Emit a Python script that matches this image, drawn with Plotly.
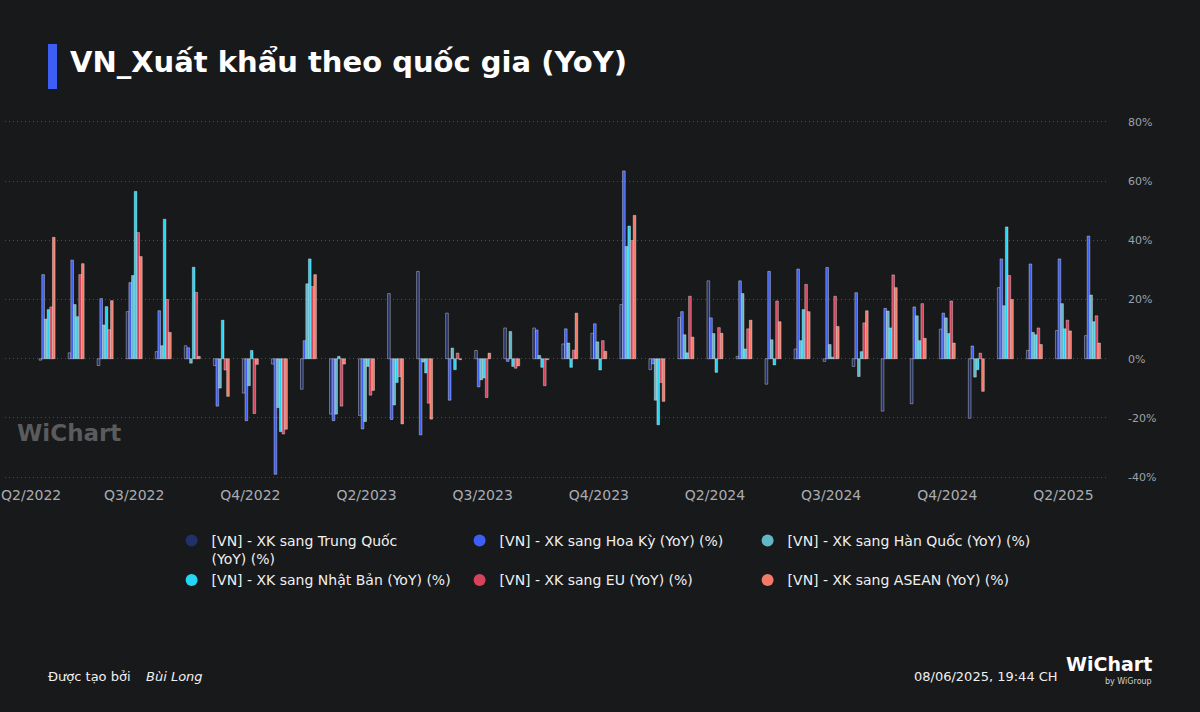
import pandas as pd
import plotly.graph_objects as go

months = pd.period_range("2022-05", "2025-05", freq="M")

china = [-0.5, 2.0, -2.3, 15.9, 2.4, 4.4, -2.3, -11.6, -1.8, -10.3, -18.7, -19.2, 22.0, 29.5, 15.4, 2.8, 10.4, 10.4, 5.0, 8.6, 18.3, -3.7, 13.9, 26.3, 0.8, -8.6, 3.3, -0.9, -2.6, -17.7, -15.2, 10.0, -20.1, 24.0, 2.8, 9.5, 7.8]
us = [28.4, 33.3, 20.3, 25.7, 16.2, 3.7, -16.0, -20.9, -39.0, 6.1, -20.9, -23.7, -20.5, -25.7, -14.0, -9.5, -0.9, 9.7, 10.1, 11.8, 63.4, -1.7, 15.9, 13.8, 26.3, 29.5, 30.3, 30.8, 22.3, 17.0, 17.5, 15.4, 4.3, 33.7, 32.0, 33.7, 41.4]
korea = [13.4, 18.3, 11.4, 28.1, 4.4, -1.5, -9.9, -9.1, -16.5, 25.3, -18.7, -21.2, -15.6, -1.1, 3.6, -7.1, 9.2, 1.1, 5.3, 5.7, 37.9, -14.0, 8.1, 8.5, 22.0, 6.4, 6.1, 4.8, -6.0, 16.1, 14.5, 13.8, -6.2, 17.9, 8.9, 18.6, 21.5]
japan = [16.6, 14.2, 17.6, 56.5, 47.1, 30.9, 13.0, 2.8, -24.6, 33.7, 0.8, -2.6, -8.0, -4.8, -3.7, -6.5, -2.6, -2.9, -2.9, -3.8, 44.8, -22.3, 2.0, -4.6, 3.3, -2.1, 16.6, 0.5, 2.4, 10.4, 6.1, 8.5, -3.7, 44.5, 8.1, 10.1, 12.5]
eu = [17.5, 28.4, 9.8, 42.6, 20.0, 22.4, -3.8, -18.5, -25.4, 24.4, -16.0, -12.3, -6.0, -15.0, 1.9, -13.1, -3.2, -9.1, 2.9, 6.1, 39.9, -8.0, 21.1, 10.5, 10.1, 19.5, 25.1, 21.1, 12.1, 28.3, 18.6, 19.5, 1.9, 28.1, 10.4, 13.0, 14.5]
asean = [41.0, 32.1, 19.6, 34.5, 8.9, 0.8, -12.7, -1.9, -23.8, 28.4, -1.8, -10.7, -22.0, -20.4, -0.3, 1.9, -2.4, -0.3, 15.4, 2.5, 48.4, -14.4, 7.3, 8.6, 13.0, 12.5, 15.9, 10.9, 16.2, 24.0, 6.9, 5.3, -11.0, 20.0, 4.8, 9.4, 5.3]

series_names = [
    "[VN] - XK sang Trung Quốc<br>(YoY) (%)",
    "[VN] - XK sang Hoa Kỳ (YoY) (%)",
    "[VN] - XK sang Hàn Quốc (YoY) (%)",
    "[VN] - XK sang Nhật Bản (YoY) (%)",
    "[VN] - XK sang EU (YoY) (%)",
    "[VN] - XK sang ASEAN (YoY) (%)",
]
series_values = [china, us, korea, japan, eu, asean]
colors = ["#22306a", "#3d5ef5", "#62b6c8", "#25d5f5", "#d7435c", "#f47a68"]

y_ticks = [-40, -20, 0, 20, 40, 60, 80]

x = list(range(len(months)))

# tick every 4 months, labelled by quarter
tick_idx = list(range(-1, len(months), 4))
tick_periods = [months[0] + i for i in tick_idx]
tick_text = [f"Q{p.quarter}/{p.year}" for p in tick_periods]
tick_pos = [max(i, -0.55) for i in tick_idx]

W, H = 1200, 712
L, R, T, B = 5, 93, 120, 233
PW, PH = W - L - R, H - T - B

BG = "#18191b"
fig = go.Figure()
for name, vals, col in zip(series_names, series_values, colors):
    fig.add_trace(go.Bar(
        x=x, y=vals, name=name,
        marker=dict(color=col, line=dict(color="rgba(255,255,255,0.45)", width=0.8)),
        showlegend=False,
    ))
for name, col in zip(series_names, colors):
    fig.add_trace(go.Scatter(
        x=[None], y=[None], mode="markers", name=name,
        marker=dict(color=col, size=15, symbol="circle"),
    ))

fig.update_layout(
    width=W, height=H,
    paper_bgcolor=BG, plot_bgcolor=BG,
    margin=dict(l=L, r=R, t=T, b=B, autoexpand=False),
    barmode="group", bargap=0.45, bargroupgap=0,
    font=dict(family="DejaVu Sans", color="#e8e8e8"),
    xaxis=dict(
        range=[-1.45, len(months) - 0.5], tickmode="array", tickvals=tick_pos, ticktext=tick_text,
        showgrid=False, zeroline=False, showline=False, ticks="", automargin=False,
        ticklabelstandoff=6,
        tickfont=dict(size=14, color="#a9adb3"),
    ),
    yaxis=dict(
        side="right", range=[-40.6, 80.6], tickmode="array", tickvals=y_ticks,
        ticktext=[f"{v}%" for v in y_ticks], automargin=False,
        showgrid=True, gridcolor="#4a4c52", griddash="1px,3px", gridwidth=1,
        zeroline=False, ticks="", ticklabelstandoff=20,
        tickfont=dict(size=11, color="#9ea2a8"),
    ),
    legend=dict(
        orientation="h", xref="container", yref="container", x=0.143, y=1 - 525 / 712,
        xanchor="left", yanchor="top", entrywidth=243, entrywidthmode="pixels",
        font=dict(size=14, color="#f0f0f0"), bgcolor="rgba(0,0,0,0)", tracegroupgap=0,
        itemsizing="constant", valign="top",
    ),
    showlegend=True,
)


def px_x(p):
    return (p - L) / PW


def px_y(p):
    return (H - B - p) / PH


# title accent bar
fig.add_shape(type="rect", xref="paper", yref="paper", x0=px_x(48), x1=px_x(57),
              y0=px_y(89), y1=px_y(44), fillcolor="#3d5ef5", line=dict(width=0), layer="above")

annots = [
    dict(text="<b>VN_Xuất khẩu theo quốc gia (YoY)</b>", x=px_x(68), y=px_y(62), xanchor="left",
         font=dict(size=29, color="#ffffff")),
    dict(text="Được tạo bởi", x=px_x(46), y=px_y(676), xanchor="left",
         font=dict(size=13, color="#f0f0f0")),
    dict(text="<i>Bùi Long</i>", x=px_x(144), y=px_y(676), xanchor="left",
         font=dict(size=13, color="#f0f0f0")),
    dict(text="08/06/2025, 19:44 CH", x=px_x(1060), y=px_y(676), xanchor="right",
         font=dict(size=13, color="#f0f0f0")),
    dict(text="<b>WiChart</b>", x=px_x(1154), y=px_y(664), xanchor="right",
         font=dict(size=19, color="#ffffff")),
    dict(text="by WiGroup", x=px_x(1154), y=px_y(681), xanchor="right",
         font=dict(size=8, color="#d0d0d0")),
    dict(text="<b>WiChart</b>", x=px_x(15), y=px_y(433), xanchor="left",
         font=dict(size=23, color="rgba(150,150,150,0.55)")),
]
for a in annots:
    fig.add_annotation(xref="paper", yref="paper", showarrow=False, yanchor="middle", **a)

fig.write_html("out.html")
